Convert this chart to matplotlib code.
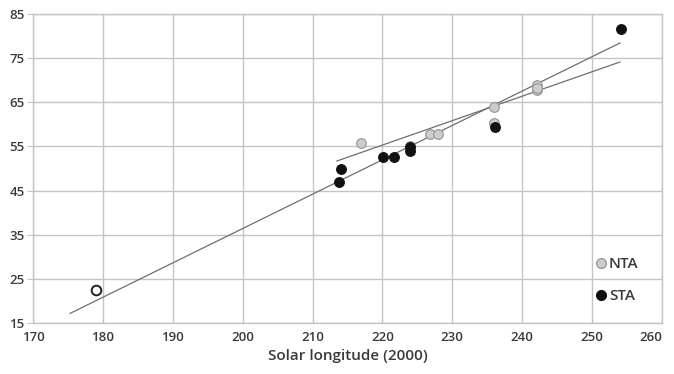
import matplotlib
matplotlib.use("Agg")
import matplotlib.pyplot as plt
from matplotlib.lines import Line2D

# values
nta_x = [217.0, 226.8, 228.0, 236.0, 236.0, 223.9, 242.1, 242.1, 242.2]
nta_y = [55.7, 57.9, 57.7, 64.0, 60.3, 55.2, 67.8, 68.9, 68.3]

sta_x = [213.8, 214.1, 220.1, 221.7, 223.9, 223.9, 236.1, 254.1]
sta_y = [47.0, 49.9, 52.5, 52.7, 54.9, 53.9, 59.4, 81.6]

outlier_x = [179.0]
outlier_y = [22.5]

# trend lines (end points as drawn)
sta_fit_x = [175.3, 254.0]
sta_fit_y = [17.2, 78.4]
nta_fit_x = [213.5, 254.0]
nta_fit_y = [51.7, 74.1]

xticks = list(range(170, 261, 10))
yticks = list(range(15, 86, 10))

txt = "#3a3a3a"
grid = "#c4c4c4"

plt.rcParams["font.family"] = ["Open Sans", "DejaVu Sans"]

fig = plt.figure(figsize=(6.74, 3.74), dpi=100)
ax = fig.add_axes([0.049, 0.136, 0.933, 0.827])

ax.plot(sta_fit_x, sta_fit_y, color="#6e6e6e", lw=0.9, zorder=2)
ax.plot(nta_fit_x, nta_fit_y, color="#6e6e6e", lw=0.9, zorder=2)

ax.scatter(nta_x, nta_y, s=48, color="#cdcdcd", edgecolor="#9a9a9a",
           linewidth=0.9, zorder=3)
ax.scatter(sta_x, sta_y, s=48, color="#111111", edgecolor="#111111",
           linewidth=0.9, zorder=4)
ax.scatter(outlier_x, outlier_y, s=48, color="white", edgecolor="#222222",
           linewidth=1.4, zorder=4)

ax.set_xlim(170, 260)
ax.set_ylim(15, 85)
ax.set_xticks(xticks)
ax.set_yticks(yticks)
ax.grid(True, color=grid, lw=1.0)
ax.set_axisbelow(True)
for s in ax.spines.values():
    s.set_color(grid)
    s.set_linewidth(1.0)

ax.tick_params(axis="y", length=4, color=grid, labelsize=9.5,
               labelcolor=txt, pad=2)
ax.tick_params(axis="x", length=0, labelsize=9.5, labelcolor=txt, pad=6)
for lab in ax.get_xticklabels() + ax.get_yticklabels():
    lab.set_fontweight("semibold")
ax.get_xticklabels()[-1].set_horizontalalignment("right")

ax.set_xlabel("Solar longitude (2000)", fontsize=11, color=txt,
              fontweight="semibold", labelpad=3)

handles = [
    Line2D([], [], marker="o", ls="", markersize=7, markerfacecolor="#cdcdcd",
           markeredgecolor="#9a9a9a", label="NTA"),
    Line2D([], [], marker="o", ls="", markersize=7, markerfacecolor="#111111",
           markeredgecolor="#111111", label="STA"),
]
leg = ax.legend(handles=handles, loc="lower right", frameon=False,
                bbox_to_anchor=(0.985, 0.02), handletextpad=0.0,
                handlelength=1.0, labelspacing=1.2, fontsize=11)
for t in leg.get_texts():
    t.set_color(txt)
    t.set_fontweight("semibold")

fig.savefig("out.png", dpi=100)
